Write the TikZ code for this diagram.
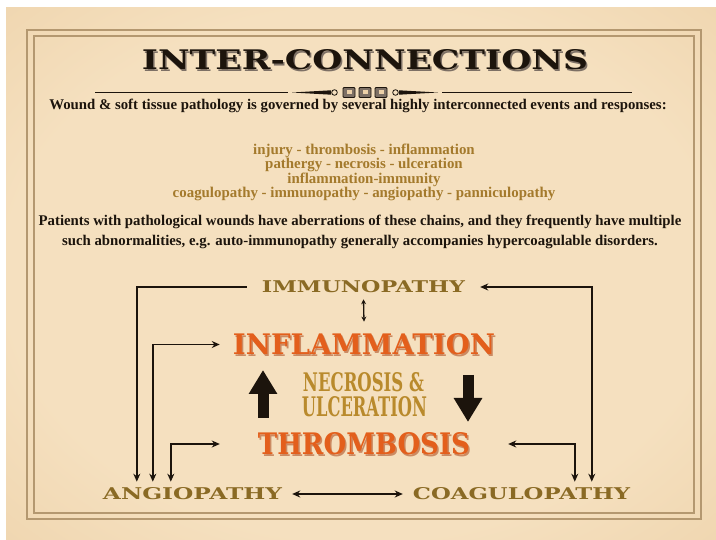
\documentclass[tikz,border=0pt]{standalone}
\usepackage{fontspec}
\usepackage{graphicx}
\setmainfont{Liberation Serif}
\newfontfamily\losa{DejaVu Serif}
\usetikzlibrary{arrows.meta}
\definecolor{papel}{HTML}{F5E0BF}
\definecolor{papelmed}{HTML}{EDD1A8}
\definecolor{borde}{HTML}{DDB684}
\definecolor{esquina}{HTML}{C08E55}
\definecolor{marco}{HTML}{B49870}
\definecolor{tinta}{HTML}{1C140C}
\definecolor{grisomb}{HTML}{7D7065}
\definecolor{oro}{HTML}{A47A2C}
\definecolor{pardo}{HTML}{8A6A24}
\definecolor{mostaza}{HTML}{B98A2C}
\definecolor{naranja}{HTML}{E35F1C}
\definecolor{sombranar}{HTML}{CB8A62}
\pgfdeclareradialshading{pergamino}{\pgfpoint{0bp}{0bp}}{color(0bp)=(papel); color(25bp)=(papel); color(42bp)=(papelmed); color(52bp)=(borde); color(72bp)=(esquina)}
\newcommand{\sombreado}[2]{\rlap{\hspace{1.5pt}\raisebox{-2pt}[0pt][0pt]{\color{#1}#2}}#2}

\begin{document}
\begin{tikzpicture}[x=1pt, y=-1pt,
  texto/.style={font=\fontsize{14.8}{20}\selectfont\bfseries, text=tinta, align=center, inner sep=0pt},
  lista/.style={font=\fontsize{14.9}{14.4}\selectfont\bfseries, text=oro, align=center, inner sep=0pt},
  rotulo/.style={inner sep=0pt},
  flecha/.style={-{Stealth[length=8pt,width=7pt]}, line width=1.6pt, tinta},
  doble/.style={{Stealth[length=8pt,width=7pt]}-{Stealth[length=8pt,width=7pt]}, line width=1.6pt, tinta},
  chica/.style={{Stealth[length=5pt,width=5pt]}-{Stealth[length=5pt,width=5pt]}, line width=1.3pt, tinta},
  gruesa/.style={-{Triangle[length=24pt,width=27pt]}, line width=11pt, tinta}]
\fill[white] (0,0) rectangle (716,540);
\shade[shading=pergamino] (6,8) rectangle (716,540);
\useasboundingbox (0,0) rectangle (716,540);
\draw[marco, line width=1.1pt] (27,30) rectangle (701,519);
\draw[marco, line width=1.1pt] (34,36) rectangle (694,513);
% titulo
\node[rotulo, text=tinta] (titulo) at (365,60) {\sombreado{grisomb}{\resizebox{446pt}{20pt}{\losa\bfseries INTER-CONNECTIONS}}};
\draw[tinta, line width=0.8pt] (95,92.5) -- (288,92.5);
\draw[tinta, line width=0.8pt] (442,92.5) -- (632,92.5);
\fill[tinta] (292,92.5) -- (331,90.3) -- (331,94.7) -- cycle;
\fill[tinta] (438,92.5) -- (399,90.3) -- (399,94.7) -- cycle;
\draw[tinta, line width=0.8pt, fill=papel] (334.5,92.5) circle[radius=2.8pt];
\draw[tinta, line width=0.8pt, fill=papel] (395.5,92.5) circle[radius=2.8pt];
\foreach \x in {349,365,381} {
  \draw[tinta, line width=0.8pt, fill=grisomb, rounded corners=1pt] (\x-6,87.5) rectangle (\x+6,97.5);
  \fill[papelmed] (\x-2.5,90.5) rectangle (\x+2.5,94.5);
}
% textos
\node[texto] (lema) at (358,106) {Wound \& soft tissue pathology is governed by several highly interconnected events and responses:};
\node[lista] (cadenas) at (364,172.5) {injury - thrombosis - inflammation\\pathergy - necrosis - ulceration\\inflammation-immunity\\coagulopathy - immunopathy - angiopathy - panniculopathy};
\node[texto] (pacientes) at (360,231.5) {Patients with pathological wounds have aberrations of these chains, and they frequently have multiple\\such abnormalities, e.g. auto-immunopathy generally accompanies hypercoagulable disorders.};
% diagrama
\node[rotulo, text=pardo, inner xsep=15pt, inner ysep=6pt] (imm) at (363.5,287) {\resizebox{203pt}{12pt}{\losa\bfseries IMMUNOPATHY}};
\node[rotulo, text=naranja, inner xsep=13pt, inner ysep=12pt] (infl) at (364,344.5) {\sombreado{sombranar}{\resizebox{262pt}{21pt}{\losa\bfseries INFLAMMATION}}};
\node[rotulo, text=mostaza] (necr) at (363.5,382.5) {\resizebox{121pt}{19pt}{\losa\bfseries NECROSIS \&}};
\node[rotulo, text=mostaza] (ulce) at (364.5,407) {\resizebox{125pt}{20pt}{\losa\bfseries ULCERATION}};
\node[rotulo, text=naranja, inner xsep=38pt] (thr) at (364,444) {\sombreado{sombranar}{\resizebox{212pt}{22pt}{\losa\bfseries THROMBOSIS}}};
\node[rotulo, text=pardo, inner xsep=10pt, inner ysep=6pt] (ang) at (192.5,494) {\resizebox{179pt}{12pt}{\losa\bfseries ANGIOPATHY}};
\node[rotulo, text=pardo, inner xsep=10pt, inner ysep=6pt] (coag) at (521.5,494) {\resizebox{217pt}{12pt}{\losa\bfseries COAGULOPATHY}};
\coordinate (sube0) at (263,418);
\coordinate (sube1) at (263,370);
\coordinate (baja0) at (468,375);
\coordinate (baja1) at (468,422);
% conexiones
\draw[flecha] (imm.west) -| ([xshift=44pt]ang.north west);
\draw[doble] (imm.east) -| ([xshift=189pt]coag.north west);
\draw[doble] (infl.west) -| ([xshift=60pt]ang.north west);
\draw[doble] (thr.west) -| ([xshift=78pt]ang.north west);
\draw[doble] (thr.east) -| ([xshift=172pt]coag.north west);
\draw[chica] (imm.south) -- (infl.north);
\draw[doble] (ang.east) -- (coag.west);
\draw[gruesa] (sube0) -- (sube1);
\draw[gruesa] (baja0) -- (baja1);
\end{tikzpicture}
\end{document}
